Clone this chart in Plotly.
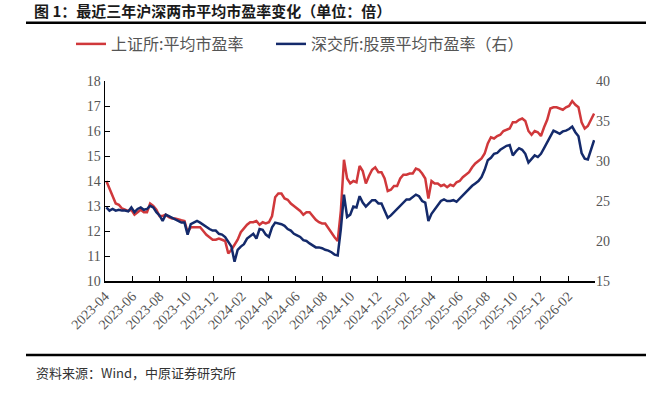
import plotly.graph_objects as go

# weekly (Friday) observation dates
dates = [
    "2023-04-21","2023-04-28","2023-05-05","2023-05-12","2023-05-19","2023-05-26",
    "2023-06-02","2023-06-09","2023-06-16","2023-06-23","2023-06-30","2023-07-07",
    "2023-07-14","2023-07-21","2023-07-28","2023-08-04","2023-08-11","2023-08-18",
    "2023-08-25","2023-09-01","2023-09-08","2023-09-15","2023-09-22","2023-09-29",
    "2023-10-06","2023-10-13","2023-10-20","2023-10-27","2023-11-03","2023-11-10",
    "2023-11-17","2023-11-24","2023-12-01","2023-12-08","2023-12-15","2023-12-22",
    "2023-12-29",
    "2024-01-05","2024-01-12","2024-01-19","2024-01-26","2024-02-02","2024-02-09",
    "2024-02-16","2024-02-23","2024-03-01","2024-03-08","2024-03-15","2024-03-22",
    "2024-03-29","2024-04-05","2024-04-12","2024-04-19","2024-04-26","2024-05-03",
    "2024-05-10","2024-05-17","2024-05-24","2024-05-31","2024-06-07","2024-06-14",
    "2024-06-21","2024-06-28","2024-07-05","2024-07-12","2024-07-19","2024-07-26",
    "2024-08-02","2024-08-09","2024-08-16","2024-08-23","2024-08-30","2024-09-06",
    "2024-09-13","2024-09-20","2024-09-27","2024-10-04","2024-10-11","2024-10-18",
    "2024-10-25","2024-11-01","2024-11-08","2024-11-15","2024-11-22","2024-11-29",
    "2024-12-06","2024-12-13","2024-12-20","2024-12-27",
    "2025-01-03","2025-01-10","2025-01-17","2025-01-24","2025-01-31","2025-02-07",
    "2025-02-14","2025-02-21","2025-02-28","2025-03-07","2025-03-14","2025-03-21",
    "2025-03-28","2025-04-04","2025-04-11","2025-04-18","2025-04-25","2025-05-02",
    "2025-05-09","2025-05-16","2025-05-23","2025-05-30","2025-06-06","2025-06-13",
    "2025-06-20","2025-06-27","2025-07-04","2025-07-11","2025-07-18","2025-07-25",
    "2025-08-01","2025-08-08","2025-08-15","2025-08-22","2025-08-29","2025-09-05",
    "2025-09-12","2025-09-19","2025-09-26","2025-10-03","2025-10-10","2025-10-17",
    "2025-10-24","2025-10-31","2025-11-07","2025-11-14","2025-11-21","2025-11-28",
    "2025-12-05","2025-12-12","2025-12-19","2025-12-26",
    "2026-01-02","2026-01-09","2026-01-16","2026-01-23","2026-01-30","2026-02-06",
    "2026-02-13","2026-02-20","2026-02-27","2026-03-06","2026-03-13","2026-03-20",
    "2026-03-27","2026-04-03","2026-04-10","2026-04-17",
]

# 上证所: 平均市盈率 (left axis)
sse_pe = [
    14.0, 13.7, 13.35, 13.1, 13.05, 12.9, 12.85, 12.8, 12.85, 12.65,
    12.75, 12.85, 12.75, 12.75, 13.1, 13.0, 12.85, 12.6, 12.6, 12.65,
    12.55, 12.5, 12.5, 12.45, 12.43, 12.4, 11.95, 12.15, 12.15, 12.15,
    12.15, 12.0, 11.85, 11.75, 11.65, 11.65, 11.7, 11.65, 11.6, 11.1,
    11.25, 11.45, 11.65, 11.95, 12.1, 12.25, 12.35, 12.35, 12.4, 12.25,
    12.35, 12.3, 12.35, 12.6, 13.35, 13.5, 13.5, 13.3, 13.25, 13.1,
    13.0, 12.9, 12.8, 12.65, 12.75, 12.75, 12.6, 12.45, 12.35, 12.3,
    12.3, 12.1, 11.9, 11.75, 11.6, 12.8, 14.85, 14.1, 13.9, 14.0,
    13.95, 14.6, 14.4, 13.9, 14.2, 14.45, 14.55, 14.35, 14.35, 14.1,
    13.6, 13.65, 13.8, 13.8, 14.1, 14.25, 14.25, 14.3, 14.3, 14.5,
    14.45, 14.3, 14.1, 13.3, 14.0, 13.9, 13.9, 13.8, 13.85, 13.75,
    13.85, 13.8, 13.95, 14.0, 14.15, 14.25, 14.35, 14.55, 14.7, 14.8,
    14.9, 15.1, 15.5, 15.75, 15.7, 15.8, 15.85, 16.0, 16.05, 16.1,
    16.35, 16.35, 16.45, 16.5, 16.4, 16.0, 15.85, 16.0, 15.95, 15.8,
    16.15, 16.45, 16.9, 16.95, 16.95, 16.9, 16.85, 16.95, 17.0, 17.2,
    17.05, 16.95, 16.35, 16.1, 16.2, 16.45, 16.7,
]

# 深交所: 股票平均市盈率 (right axis)
szse_pe = [
    24.2, 23.8, 24.0, 23.8, 23.9, 23.8, 23.8, 23.7, 24.2, 23.6,
    24.0, 24.2, 23.9, 24.0, 24.4, 24.2, 23.6, 23.2, 22.5, 23.3,
    23.1, 22.9, 22.6, 22.5, 22.3, 22.3, 20.8, 22.1, 22.3, 22.5,
    22.3, 22.0, 21.7, 21.5, 21.3, 21.3, 20.9, 20.8, 20.5, 19.9,
    19.3, 17.4, 18.9, 19.3, 19.6, 20.3, 20.6, 20.9, 20.3, 21.5,
    21.4, 20.8, 20.5, 21.7, 22.3, 22.2, 22.1, 21.9, 21.5, 21.3,
    20.9, 20.7, 20.5, 20.1, 20.0, 19.7, 19.4, 19.2, 19.2, 19.1,
    18.9, 18.8, 18.6, 18.3, 18.2, 21.5, 25.8, 23.0, 23.3, 24.3,
    24.2, 25.6, 24.8, 24.3, 24.7, 25.1, 25.1, 24.7, 24.7, 23.8,
    22.9, 23.2, 23.6, 23.9, 24.3, 24.7, 25.2, 25.2, 25.5, 25.8,
    25.6, 25.0, 24.8, 22.5, 23.4, 23.9, 24.5, 25.0, 25.2, 25.0,
    25.0, 25.1, 24.9, 25.3, 25.8, 26.2, 26.5, 26.9, 27.2, 27.5,
    28.0, 28.9, 30.1, 30.4, 30.9, 31.0, 31.4, 31.7, 31.9, 32.0,
    30.7, 31.2, 31.6, 31.4, 30.9, 29.8, 30.2, 30.7, 30.5, 30.9,
    31.6, 32.4, 33.2, 33.8, 33.6, 33.4, 33.7, 33.8, 34.0, 34.3,
    33.6, 33.1, 31.0, 30.3, 30.2, 31.3, 32.6,
]

tick_dates = [
    "2023-04-18","2023-06-18","2023-08-18","2023-10-18","2023-12-18",
    "2024-02-18","2024-04-18","2024-06-18","2024-08-18","2024-10-18","2024-12-18",
    "2025-02-18","2025-04-18","2025-06-18","2025-08-18","2025-10-18","2025-12-18",
    "2026-02-18",
]
tick_labels = [
    "2023-04","2023-06","2023-08","2023-10","2023-12",
    "2024-02","2024-04","2024-06","2024-08","2024-10","2024-12",
    "2025-02","2025-04","2025-06","2025-08","2025-10","2025-12",
    "2026-02",
]

RED = "#D0383B"
NAVY = "#142A6B"
CJK = "Noto Sans CJK SC"
SERIF = "Liberation Serif"

fig = go.Figure()
fig.add_trace(go.Scatter(
    x=dates, y=sse_pe, name="上证所:平均市盈率", mode="lines",
    line=dict(color=RED, width=2.5), yaxis="y", legend="legend",
))
fig.add_trace(go.Scatter(
    x=dates, y=szse_pe, name="深交所:股票平均市盈率（右）", mode="lines",
    line=dict(color=NAVY, width=2.5), yaxis="y2", legend="legend2",
))

W, H = 660, 393
L, R, T, B = 105, 65, 81, 112
pw, ph = W - L - R, H - T - B

def px_x(x):
    return (x - L) / pw

def px_y(y):
    return (H - B - y) / ph

legend_font = dict(family=CJK, size=16, color="#555555")

fig.update_layout(
    width=W, height=H,
    margin=dict(l=L, r=R, t=T, b=B, autoexpand=False),
    paper_bgcolor="white", plot_bgcolor="white",
    showlegend=True, hovermode=False,
    title=dict(
        text="<b>图 1：最近三年沪深两市平均市盈率变化（单位：倍）</b>",
        font=dict(family=CJK, size=15, color="#1a1a1a"),
        x=34 / W, xref="container", xanchor="left",
        y=1 - 12 / H, yref="container", yanchor="middle",
    ),
    legend=dict(
        orientation="h",
        x=71 / W, xref="container", xanchor="left",
        y=1 - 44 / H, yref="container", yanchor="middle",
        font=legend_font, bgcolor="rgba(0,0,0,0)",
    ),
    legend2=dict(
        orientation="h",
        x=271 / W, xref="container", xanchor="left",
        y=1 - 44 / H, yref="container", yanchor="middle",
        font=legend_font, bgcolor="rgba(0,0,0,0)",
    ),
    xaxis=dict(
        type="date",
        range=["2023-04-18", "2026-04-19"],
        tickmode="array", tickvals=tick_dates, ticktext=tick_labels,
        tickangle=-45, automargin=False,
        ticks="inside", ticklen=5, tickcolor="black", tickwidth=1,
        showline=True, linecolor="black", linewidth=1.5,
        showgrid=False, zeroline=False,
        tickfont=dict(family=SERIF, size=14, color="#555555"),
    ),
    yaxis=dict(
        range=[10, 18], dtick=1, automargin=False,
        ticks="inside", ticklen=5, tickcolor="black",
        showline=True, linecolor="black", linewidth=1.5,
        showgrid=False, zeroline=False,
        tickfont=dict(family=SERIF, size=14, color="#555555"),
    ),
    yaxis2=dict(
        range=[15, 40], dtick=5, overlaying="y", side="right", automargin=False,
        showline=False, ticks="", showgrid=False, zeroline=False,
        tickfont=dict(family=SERIF, size=14, color="#555555"),
    ),
    shapes=[
        dict(type="line", xref="paper", yref="paper",
             x0=px_x(26), x1=px_x(646), y0=px_y(22.7), y1=px_y(22.7),
             line=dict(color="black", width=2.5)),
        dict(type="line", xref="paper", yref="paper",
             x0=px_x(26), x1=px_x(646), y0=px_y(355), y1=px_y(355),
             line=dict(color="black", width=2.5)),
    ],
    annotations=[
        dict(text="资料来源：Wind，中原证券研究所", xref="paper", yref="paper",
             x=px_x(34), y=px_y(372), xanchor="left", yanchor="middle",
             showarrow=False, font=dict(family=CJK, size=13, color="#333333")),
    ],
)

fig.write_html(
    "out.html",
    config={"displayModeBar": False, "staticPlot": True},
    post_script="document.body.style.margin='0px';document.body.style.padding='0px';",
)
